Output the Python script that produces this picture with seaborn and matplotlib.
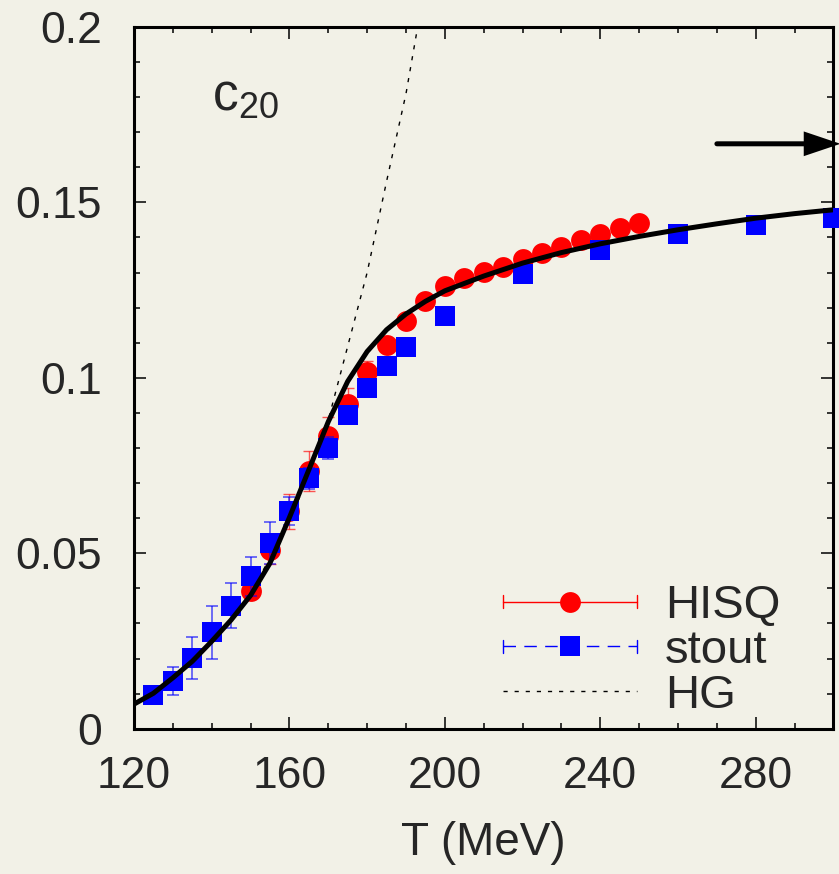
import numpy as np
import pandas as pd
import matplotlib
matplotlib.use("Agg")
import matplotlib.pyplot as plt
import seaborn as sns
from matplotlib.lines import Line2D
from matplotlib.legend_handler import HandlerLine2D
from matplotlib.ticker import MultipleLocator

# ---------------- data ----------------
hisq_T = [150, 155, 160, 165, 170, 175, 180, 185, 190, 195, 200, 205, 210,
          215, 220, 225, 230, 235, 240, 245, 250]
hisq_c20 = [0.0392, 0.0510, 0.0620, 0.0735, 0.0833, 0.0926, 0.1018, 0.1094,
            0.1163, 0.1220, 0.1263, 0.1284, 0.1301, 0.1317, 0.1338, 0.1355,
            0.1374, 0.1393, 0.1410, 0.1427, 0.1442]
hisq_err = [0.0020, 0.0040, 0.0050, 0.0057, 0.0056, 0.0046, 0.0030, 0.0020,
            0.0012, 0.0010, 0.0010, 0.0010, 0.0010, 0.0010, 0.0010, 0.0010,
            0.0010, 0.0010, 0.0010, 0.0010, 0.0010]

stout_T = [125, 130, 135, 140, 145, 150, 155, 160, 165, 170, 175, 180, 185,
           190, 200, 220, 240, 260, 280, 300]
stout_c20 = [0.0095, 0.0135, 0.0201, 0.0275, 0.0350, 0.0434, 0.0529, 0.0621,
             0.0714, 0.0800, 0.0895, 0.0970, 0.1034, 0.1089, 0.1175, 0.1296,
             0.1365, 0.1409, 0.1435, 0.1455]
stout_err = [0.0020, 0.0040, 0.0060, 0.0075, 0.0064, 0.0055, 0.0060, 0.0040,
             0.0030, 0.0030, 0.0020, 0.0015, 0.0010, 0.0010, 0.0010, 0.0010,
             0.0010, 0.0010, 0.0010, 0.0010]

fit_T = [120, 125, 130, 135, 140, 145, 150, 155, 160, 165, 170, 175, 180,
         185, 190, 195, 200, 210, 220, 230, 240, 250, 260, 270, 280, 290, 300]
fit_c20 = [0.0070, 0.0101, 0.0145, 0.0192, 0.0249, 0.0310, 0.0380, 0.0472,
           0.0602, 0.0738, 0.0875, 0.0990, 0.1075, 0.1137, 0.1182, 0.1218,
           0.1248, 0.1290, 0.1327, 0.1357, 0.1382, 0.1403, 0.1422, 0.1439,
           0.1455, 0.1468, 0.1479]

hg_T = [120, 130, 140, 150, 160, 165, 170, 175, 180, 185, 190, 193]
hg_c20 = [0.0070, 0.0140, 0.0245, 0.0385, 0.0590, 0.0725, 0.0880, 0.1090,
          0.1300, 0.1560, 0.1810, 0.2000]

sb_limit = 0.1667
arrow_T = [270, 301.8]

x_ticks = [120, 160, 200, 240, 280]
y_ticks = [0, 0.05, 0.1, 0.15, 0.2]
y_ticklabels = ["0", "0.05", "0.1", "0.15", "0.2"]
legend_labels = ["HISQ", "stout", "HG"]

# ---------------- style ----------------
BG = "#f2f1e7"
sns.set_theme(style="ticks", rc={"figure.facecolor": BG, "axes.facecolor": BG,
                                 "savefig.facecolor": BG})
plt.rcParams["font.family"] = ["Liberation Sans", "DejaVu Sans"]
plt.rcParams["mathtext.fontset"] = "custom"
plt.rcParams["mathtext.rm"] = "Liberation Sans"
plt.rcParams["mathtext.it"] = "Liberation Sans"

fig = plt.figure(figsize=(8.39, 8.74), dpi=100)
ax = fig.add_axes([0.1597, 0.16625, 0.8337, 0.8029])

df_h = pd.DataFrame({"T": hisq_T, "c20": hisq_c20, "err": hisq_err})
df_s = pd.DataFrame({"T": stout_T, "c20": stout_c20, "err": stout_err})
df_f = pd.DataFrame({"T": fit_T, "c20": fit_c20})
df_g = pd.DataFrame({"T": hg_T, "c20": hg_c20})

# HG dotted line
sns.lineplot(data=df_g, x="T", y="c20", ax=ax, color="black", lw=1.0,
             dashes=False, legend=False, zorder=1)
ax.lines[-1].set_dashes((3.0, 5.0))

# HISQ
ax.errorbar(df_h["T"], df_h["c20"], yerr=df_h["err"], fmt="none",
            ecolor=(1, 0, 0, 0.65), elinewidth=1.0, capsize=4, capthick=1.0,
            zorder=2)
sns.scatterplot(data=df_h, x="T", y="c20", ax=ax, marker="o", s=225,
                color="#ff0000", linewidth=0, legend=False, zorder=3,
                clip_on=False)

# stout
ax.errorbar(df_s["T"], df_s["c20"], yerr=df_s["err"], fmt="none",
            ecolor=(0, 0, 1, 0.7), elinewidth=1.1, capsize=4, capthick=1.1,
            zorder=4)
sns.scatterplot(data=df_s, x="T", y="c20", ax=ax, marker="s", s=225,
                color="#0000ff", linewidth=0, legend=False, zorder=5,
                clip_on=False)

# fit curve
sns.lineplot(data=df_f, x="T", y="c20", ax=ax, color="black", lw=3.6,
             legend=False, zorder=6)

# SB-limit arrow
ax.annotate("", xy=(arrow_T[1], sb_limit), xytext=(arrow_T[0], sb_limit),
            arrowprops=dict(arrowstyle="-|>,head_length=0.95,head_width=0.32",
                            mutation_scale=20, lw=3.6, color="black",
                            shrinkA=0, shrinkB=0, joinstyle="miter"),
            annotation_clip=False, zorder=7)

# label c20
ax.text(0.111, 0.882, r"$\mathregular{c_{20}}$", transform=ax.transAxes,
        fontsize=37, ha="left", va="baseline")

# axes
ax.set_xlim(120, 300)
ax.set_ylim(0, 0.2)
ax.set_xticks(x_ticks)
ax.set_xticklabels([str(t) for t in x_ticks])
ax.set_yticks(y_ticks)
ax.set_yticklabels(y_ticklabels)
ax.xaxis.set_minor_locator(MultipleLocator(10))
ax.yaxis.set_minor_locator(MultipleLocator(0.01))
ax.tick_params(which="both", direction="in", top=True, right=True,
               color="black", width=1.1)
ax.tick_params(which="major", length=8.6)
ax.tick_params(which="minor", length=4.3)
ax.tick_params(axis="x", which="major", labelsize=32, pad=20)
ax.tick_params(axis="y", which="major", labelsize=32, pad=23)
for sp in ax.spines.values():
    sp.set_visible(True)
    sp.set_linewidth(2.2)
    sp.set_color("black")
ax.set_xlabel("T (MeV)", fontsize=33, labelpad=17)
ax.set_ylabel("")


# legend with horizontal error-bar style handles
class CapHandler(HandlerLine2D):
    def __init__(self, cap_half=4.7, **kw):
        super().__init__(**kw)
        self.cap_half = cap_half

    def create_artists(self, legend, orig_handle, xdescent, ydescent, width,
                       height, fontsize, trans):
        arts = super().create_artists(legend, orig_handle, xdescent, ydescent,
                                      width, height, fontsize, trans)
        y = height / 2 - ydescent
        for x in (-xdescent, width - xdescent):
            cap = Line2D([x, x], [y - self.cap_half, y + self.cap_half],
                         color=orig_handle.get_color(), lw=1.0,
                         alpha=orig_handle.get_alpha())
            cap.set_transform(trans)
            arts.append(cap)
        return arts


h_hisq = Line2D([], [], color="#ff0000", lw=1.0, marker="o", ms=15,
                markeredgewidth=0)
h_stout = Line2D([], [], color="#0000ff", lw=1.0, ls=(0, (9, 6)), marker="s",
                 ms=15, markeredgewidth=0)
h_hg = Line2D([], [], color="black", lw=1.0, ls=(0, (3, 5)))
leg = ax.legend([h_hisq, h_stout, h_hg], legend_labels, loc="center left",
                bbox_to_anchor=(0.5282, 0.1107), frameon=False, fontsize=34,
                handlelength=2.82, handletextpad=0.6, labelspacing=0.02,
                borderpad=0, borderaxespad=0, numpoints=1,
                handler_map={h_hisq: CapHandler(), h_stout: CapHandler()})

fig.savefig("out.png", dpi=100, facecolor=BG)
